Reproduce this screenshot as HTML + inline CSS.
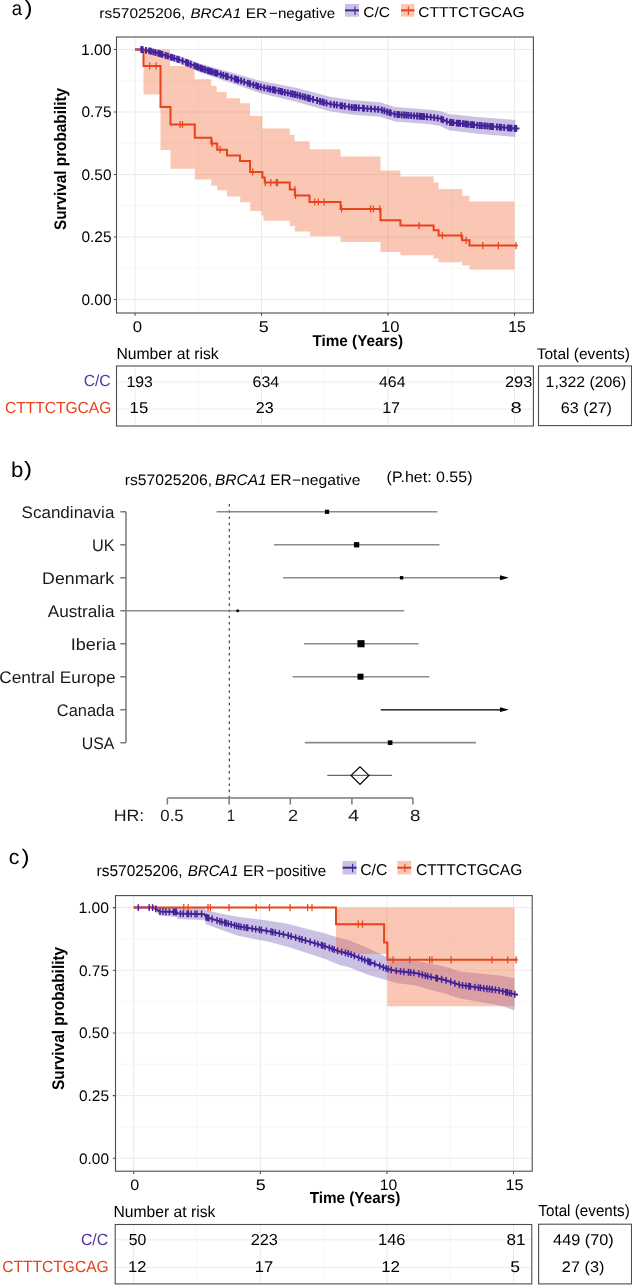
<!DOCTYPE html><html><head><meta charset="utf-8"><style>html,body{margin:0;padding:0;background:#fff;}svg{display:block;will-change:transform;}text{text-rendering:geometricPrecision;font-family:"Liberation Sans", sans-serif;}</style></head><body>
<svg width="632" height="1285" viewBox="0 0 632 1285">
<rect width="632" height="1285" fill="#fff"/>
<path d="M198.25,37.0 V313.0 M324.75,37.0 V313.0 M451.25,37.0 V313.0 M116.5,268.25 H533.4 M116.5,205.75 H533.4 M116.5,143.25 H533.4 M116.5,80.75 H533.4 " stroke="#f2f2f2" stroke-width="0.6" fill="none"/>
<path d="M135.00,37.0 V313.0 M261.50,37.0 V313.0 M388.00,37.0 V313.0 M514.50,37.0 V313.0 M116.5,299.50 H533.4 M116.5,237.00 H533.4 M116.5,174.50 H533.4 M116.5,112.00 H533.4 M116.5,49.50 H533.4 " stroke="#ebebeb" stroke-width="1" fill="none"/>
<path d="M141.30,47.50 L150.00,48.50 L160.00,50.70 L180.00,56.20 L200.00,63.60 L220.00,69.30 L240.00,75.10 L260.00,80.70 L295.00,87.50 L330.00,96.80 L353.20,100.20 L380.00,102.20 L395.00,107.00 L430.00,109.80 L440.00,110.90 L449.00,114.10 L477.50,116.90 L515.40,119.90 L515.40,137.10 L477.50,133.70 L449.00,130.30 L440.00,126.10 L430.00,124.20 L395.00,121.60 L380.00,116.80 L353.20,114.80 L330.00,111.20 L295.00,101.50 L260.00,93.10 L240.00,86.10 L220.00,79.30 L200.00,72.20 L180.00,63.80 L160.00,56.70 L150.00,53.50 L141.30,51.50 Z" fill="rgba(67,34,154,0.28)"/>
<path d="M143.50,49.50 L170.00,49.50 L170.00,66.00 L194.60,66.00 L194.60,79.20 L211.20,79.20 L211.20,85.90 L216.70,85.90 L216.70,91.90 L226.70,91.90 L226.70,98.20 L240.00,98.20 L240.00,103.30 L250.00,103.30 L250.00,116.00 L262.40,116.00 L262.40,128.60 L289.80,128.60 L289.80,135.00 L294.60,135.00 L294.60,141.30 L309.70,141.30 L309.70,149.20 L340.60,149.20 L340.60,156.50 L380.50,156.50 L380.50,170.50 L400.40,170.50 L400.40,176.50 L433.60,176.50 L433.60,182.50 L438.60,182.50 L438.60,189.10 L462.20,189.10 L462.20,195.70 L469.50,195.70 L469.50,201.40 L514.50,201.40 L514.50,269.50 L469.50,269.50 L469.50,265.50 L462.20,265.50 L462.20,262.20 L438.60,262.20 L438.60,258.50 L433.60,258.50 L433.60,255.20 L400.40,255.20 L400.40,251.90 L380.50,251.90 L380.50,241.90 L340.60,241.90 L340.60,236.30 L309.90,236.30 L309.90,231.40 L294.90,231.40 L294.90,225.90 L289.80,225.90 L289.80,220.80 L263.50,220.80 L263.50,215.60 L261.60,215.60 L261.60,210.90 L250.30,210.90 L250.30,202.20 L240.30,202.20 L240.30,196.60 L227.00,196.60 L227.00,190.30 L217.20,190.30 L217.20,185.80 L211.30,185.80 L211.30,179.50 L194.80,179.50 L194.80,168.70 L170.50,168.70 L170.50,150.10 L160.50,150.10 L160.50,94.60 L143.50,94.60 Z" fill="rgba(240,100,50,0.36)"/>
<path d="M135,49.5 L141.3,49.5 L150,51 L160,53.7 L180,60 L200,67.9 L220,74.3 L240,80.6 L260,86.9 L295,94.5 L330,104 L353.2,107.5 L380,109.5 L395,114.3 L430,117 L440,118.5 L449,122.2 L477.5,125.3 L515.4,128.5 L519.4,128.5" stroke="#43229a" stroke-width="2" fill="none"/>
<path d="M135.00,49.50 H143.50 V66.00 H160.50 V107.00 H170.50 V124.50 H194.80 V137.70 H211.30 V143.40 H217.20 V149.70 H227.00 V155.40 H240.00 V161.10 H250.10 V171.90 H262.40 V177.60 H264.70 V182.60 H289.80 V189.50 H294.90 V195.50 H309.50 V202.00 H340.60 V209.00 H380.50 V220.30 H400.40 V225.60 H433.60 V230.30 H438.60 V235.60 H462.20 V240.30 H469.50 V245.60 H517.70" stroke="#e8431d" stroke-width="2" fill="none" stroke-linejoin="miter"/>
<path d="M141.30,46.10 V52.90 M142.65,46.33 V53.13 M146.05,46.92 V53.72 M149.21,47.46 V54.26 M150.90,47.84 V54.64 M153.29,48.49 V55.29 M155.54,49.10 V55.90 M158.38,49.86 V56.66 M160.00,50.30 V57.10 M161.23,50.69 V57.49 M162.27,51.02 V57.82 M165.64,52.08 V58.88 M167.85,52.77 V59.57 M171.00,53.77 V60.57 M171.97,54.07 V60.87 M174.21,54.78 V61.58 M177.25,55.73 V62.53 M178.87,56.24 V63.04 M182.55,57.61 V64.41 M186.10,59.01 V65.81 M187.15,59.43 V66.23 M188.19,59.83 V66.63 M190.71,60.83 V67.63 M194.37,62.28 V69.08 M196.43,63.09 V69.89 M198.01,63.71 V70.51 M200.19,64.56 V71.36 M201.23,64.89 V71.69 M202.83,65.41 V72.21 M205.05,66.12 V72.92 M207.44,66.88 V73.68 M209.07,67.40 V74.20 M210.69,67.92 V74.72 M212.29,68.43 V75.23 M214.57,69.16 V75.96 M216.36,69.74 V76.54 M217.39,70.06 V76.86 M220.76,71.14 V77.94 M223.32,71.95 V78.75 M226.13,72.83 V79.63 M227.63,73.30 V80.10 M231.44,74.50 V81.30 M234.88,75.59 V82.39 M236.19,76.00 V82.80 M238.11,76.60 V83.40 M241.14,77.56 V84.36 M244.15,78.51 V85.31 M247.81,79.66 V86.46 M249.99,80.35 V87.15 M253.34,81.40 V88.20 M256.23,82.31 V89.11 M258.06,82.89 V89.69 M260.71,83.65 V90.45 M264.21,84.42 V91.22 M267.61,85.15 V91.95 M270.03,85.68 V92.48 M272.68,86.25 V93.05 M273.74,86.48 V93.28 M275.40,86.84 V93.64 M278.66,87.55 V94.35 M280.81,88.02 V94.82 M282.27,88.34 V95.14 M284.81,88.89 V95.69 M287.79,89.54 V96.34 M290.70,90.17 V96.97 M292.74,90.61 V97.41 M294.96,91.09 V97.89 M297.38,91.75 V98.55 M300.00,92.46 V99.26 M302.67,93.18 V99.98 M304.93,93.80 V100.60 M307.50,94.49 V101.29 M308.63,94.80 V101.60 M309.81,95.12 V101.92 M313.04,96.00 V102.80 M317.15,97.11 V103.91 M320.04,97.90 V104.70 M322.31,98.51 V105.31 M323.88,98.94 V105.74 M326.49,99.65 V106.45 M330.59,100.69 V107.49 M334.04,101.21 V108.01 M336.76,101.62 V108.42 M340.48,102.18 V108.98 M342.25,102.45 V109.25 M344.89,102.85 V109.65 M348.90,103.45 V110.25 M351.75,103.88 V110.68 M354.22,104.18 V110.98 M356.10,104.32 V111.12 M358.85,104.52 V111.32 M362.87,104.82 V111.62 M363.93,104.90 V111.70 M367.42,105.16 V111.96 M371.02,105.43 V112.23 M374.82,105.71 V112.51 M378.17,105.96 V112.76 M381.74,106.66 V113.46 M384.39,107.51 V114.31 M387.19,108.40 V115.20 M389.56,109.16 V115.96 M390.77,109.55 V116.35 M394.52,110.75 V117.55 M397.34,111.08 V117.88 M399.01,111.21 V118.01 M401.62,111.41 V118.21 M404.17,111.61 V118.41 M406.33,111.77 V118.57 M408.45,111.94 V118.74 M411.17,112.15 V118.95 M414.15,112.38 V119.18 M417.10,112.61 V119.41 M419.57,112.80 V119.60 M420.70,112.88 V119.68 M422.46,113.02 V119.82 M424.05,113.14 V119.94 M426.91,113.36 V120.16 M430.64,113.70 V120.50 M434.17,114.23 V121.03 M437.70,114.75 V121.55 M441.28,115.63 V122.43 M443.12,116.38 V123.18 M446.79,117.89 V124.69 M449.93,118.90 V125.70 M451.23,119.04 V125.84 M452.32,119.16 V125.96 M453.40,119.28 V126.08 M456.80,119.65 V126.45 M458.62,119.85 V126.65 M460.00,120.00 V126.80 M462.99,120.32 V127.12 M465.11,120.55 V127.35 M466.36,120.69 V127.49 M467.90,120.86 V127.66 M470.59,121.15 V127.95 M472.15,121.32 V128.12 M474.04,121.52 V128.32 M477.30,121.88 V128.68 M479.76,122.09 V128.89 M481.81,122.26 V129.06 M484.32,122.48 V129.28 M485.44,122.57 V129.37 M487.68,122.76 V129.56 M490.04,122.96 V129.76 M491.66,123.10 V129.90 M493.04,123.21 V130.01 M496.89,123.54 V130.34 M499.52,123.76 V130.56 M501.21,123.90 V130.70 M504.14,124.15 V130.95 M507.73,124.45 V131.25 M508.84,124.55 V131.35 M509.93,124.64 V131.44 M511.43,124.76 V131.56 M514.71,125.04 V131.84 M516.25,125.10 V131.90 " stroke="#43229a" stroke-width="1.9" fill="none"/>
<path d="M149.70,62.40 V69.60 M156.00,62.40 V69.60 M180.10,120.90 V128.10 M182.50,120.90 V128.10 M212.20,139.80 V147.00 M220.10,146.10 V153.30 M252.70,168.30 V175.50 M265.30,179.00 V186.20 M270.80,179.00 V186.20 M276.20,179.00 V186.20 M277.50,179.00 V186.20 M294.90,185.90 V193.10 M295.50,191.90 V199.10 M314.70,198.40 V205.60 M318.30,198.40 V205.60 M324.10,198.40 V205.60 M341.60,205.40 V212.60 M370.50,205.40 V212.60 M373.20,205.40 V212.60 M379.80,205.40 V212.60 M419.00,222.00 V229.20 M442.30,232.00 V239.20 M461.20,232.00 V239.20 M466.20,236.70 V243.90 M482.80,242.00 V249.20 M498.40,242.00 V249.20 M516.00,242.00 V249.20 " stroke="#e8431d" stroke-width="1.2" fill="none"/>
<rect x="116.5" y="37.0" width="416.9" height="276.0" fill="none" stroke="#4d4d4d" stroke-width="1.1"/>
<path d="M113.80,299.50 H116.5 M113.80,237.00 H116.5 M113.80,174.50 H116.5 M113.80,112.00 H116.5 M113.80,49.50 H116.5 M135.00,313.0 V315.70 M261.50,313.0 V315.70 M388.00,313.0 V315.70 M514.50,313.0 V315.70 " stroke="#4d4d4d" stroke-width="1.1" fill="none"/>
<text x="11.81" y="15.40" font-size="20.07" font-weight="normal" font-style="normal" fill="#000" textLength="10.29" lengthAdjust="spacingAndGlyphs" >a</text>
<text x="24.46" y="15.24" font-size="21.04" font-weight="normal" font-style="normal" fill="#000" textLength="8.04" lengthAdjust="spacingAndGlyphs" >)</text>
<text x="99.27" y="18.20" font-size="14.10" font-weight="normal" font-style="normal" fill="#000" textLength="86.12" lengthAdjust="spacingAndGlyphs" >rs57025206,</text>
<text x="190.43" y="18.20" font-size="13.81" font-weight="normal" font-style="italic" fill="#000" textLength="50.75" lengthAdjust="spacingAndGlyphs" >BRCA1</text>
<text x="245.73" y="18.20" font-size="13.81" font-weight="normal" font-style="normal" fill="#000" textLength="21.49" lengthAdjust="spacingAndGlyphs" >ER</text>
<text x="269.05" y="18.20" font-size="13.99" font-weight="normal" font-style="normal" fill="#000" textLength="66.12" lengthAdjust="spacingAndGlyphs" >−negative</text>
<rect x="345" y="4" width="14.00" height="12.70" fill="rgba(67,34,154,0.28)"/>
<path d="M345,10.35 H359" stroke="#43229a" stroke-width="2"/>
<path d="M355,6.45 V14.95" stroke="#43229a" stroke-width="1.1"/>
<text x="363.21" y="17.10" font-size="14.24" font-weight="normal" font-style="normal" fill="#000" textLength="26.78" lengthAdjust="spacingAndGlyphs" >C/C</text>
<rect x="401" y="4" width="13.40" height="12.70" fill="rgba(240,100,50,0.36)"/>
<path d="M401,10.35 H414.4" stroke="#e8431d" stroke-width="2"/>
<path d="M408.4,6.45 V14.95" stroke="#e8431d" stroke-width="1.1"/>
<text x="418.21" y="17.10" font-size="14.24" font-weight="normal" font-style="normal" fill="#000" textLength="106.35" lengthAdjust="spacingAndGlyphs" >CTTTCTGCAG</text>
<text x="80.90" y="54.90" font-size="15.33" font-weight="normal" font-style="normal" fill="#000" textLength="30.61" lengthAdjust="spacingAndGlyphs" >1.00</text>
<text x="81.50" y="117.40" font-size="15.33" font-weight="normal" font-style="normal" fill="#000" textLength="30.05" lengthAdjust="spacingAndGlyphs" >0.75</text>
<text x="81.50" y="179.90" font-size="15.33" font-weight="normal" font-style="normal" fill="#000" textLength="30.00" lengthAdjust="spacingAndGlyphs" >0.50</text>
<text x="81.50" y="242.40" font-size="15.33" font-weight="normal" font-style="normal" fill="#000" textLength="30.05" lengthAdjust="spacingAndGlyphs" >0.25</text>
<text x="81.50" y="304.90" font-size="15.33" font-weight="normal" font-style="normal" fill="#000" textLength="30.00" lengthAdjust="spacingAndGlyphs" >0.00</text>
<text x="132.85" y="332.10" font-size="15.47" font-weight="normal" font-style="normal" fill="#000" textLength="9.31" lengthAdjust="spacingAndGlyphs" >0</text>
<text x="258.68" y="332.10" font-size="15.47" font-weight="normal" font-style="normal" fill="#000" textLength="9.97" lengthAdjust="spacingAndGlyphs" >5</text>
<text x="381.14" y="332.10" font-size="15.47" font-weight="normal" font-style="normal" fill="#000" textLength="18.41" lengthAdjust="spacingAndGlyphs" >10</text>
<text x="508.19" y="332.10" font-size="15.47" font-weight="normal" font-style="normal" fill="#000" textLength="17.68" lengthAdjust="spacingAndGlyphs" >15</text>
<text x="312.43" y="345.80" font-size="15.70" font-weight="bold" font-style="normal" fill="#000" textLength="90.62" lengthAdjust="spacingAndGlyphs" >Time (Years)</text>
<text transform="translate(65.70,230.04) rotate(-90)" x="0" y="0" font-size="16.72" font-weight="bold" textLength="142.12" lengthAdjust="spacingAndGlyphs">Survival probability</text>
<path d="M198.25,366.0 V426.0 M324.75,366.0 V426.0 M451.25,366.0 V426.0 " stroke="#f2f2f2" stroke-width="0.6" fill="none"/>
<path d="M135.00,366.0 V426.0 M261.50,366.0 V426.0 M388.00,366.0 V426.0 M514.50,366.0 V426.0 M116.5,382 H533.4 M116.5,409 H533.4 " stroke="#ebebeb" stroke-width="1" fill="none"/>
<rect x="116.5" y="366.0" width="416.90" height="60.00" fill="none" stroke="#4d4d4d" stroke-width="1.1"/>
<rect x="538.5" y="366.0" width="93.00" height="59.60" fill="none" stroke="#4d4d4d" stroke-width="1.1"/>
<text x="116.41" y="359.00" font-size="15.99" font-weight="normal" font-style="normal" fill="#000" textLength="102.27" lengthAdjust="spacingAndGlyphs" >Number at risk</text>
<text x="536.66" y="359.20" font-size="15.41" font-weight="normal" font-style="normal" fill="#000" textLength="93.29" lengthAdjust="spacingAndGlyphs" >Total (events)</text>
<text x="83.70" y="385.50" font-size="15.99" font-weight="normal" font-style="normal" fill="#5236a3" textLength="26.99" lengthAdjust="spacingAndGlyphs" >C/C</text>
<text x="4.91" y="412.50" font-size="15.99" font-weight="normal" font-style="normal" fill="#e8431d" textLength="106.35" lengthAdjust="spacingAndGlyphs" >CTTTCTGCAG</text>
<text x="126.49" y="386.90" font-size="15.33" font-weight="normal" font-style="normal" fill="#000" textLength="26.40" lengthAdjust="spacingAndGlyphs" >193</text>
<text x="252.49" y="386.90" font-size="15.33" font-weight="normal" font-style="normal" fill="#000" textLength="26.68" lengthAdjust="spacingAndGlyphs" >634</text>
<text x="379.04" y="386.90" font-size="15.33" font-weight="normal" font-style="normal" fill="#000" textLength="26.43" lengthAdjust="spacingAndGlyphs" >464</text>
<text x="504.97" y="386.90" font-size="15.33" font-weight="normal" font-style="normal" fill="#000" textLength="27.45" lengthAdjust="spacingAndGlyphs" >293</text>
<text x="129.63" y="413.40" font-size="15.62" font-weight="normal" font-style="normal" fill="#000" textLength="18.57" lengthAdjust="spacingAndGlyphs" >15</text>
<text x="255.79" y="413.40" font-size="15.62" font-weight="normal" font-style="normal" fill="#000" textLength="17.92" lengthAdjust="spacingAndGlyphs" >23</text>
<text x="382.17" y="413.40" font-size="15.62" font-weight="normal" font-style="normal" fill="#000" textLength="17.94" lengthAdjust="spacingAndGlyphs" >17</text>
<text x="510.62" y="413.40" font-size="15.62" font-weight="normal" font-style="normal" fill="#000" textLength="11.26" lengthAdjust="spacingAndGlyphs" >8</text>
<text x="545.60" y="386.90" font-size="15.19" font-weight="normal" font-style="normal" fill="#000" textLength="80.78" lengthAdjust="spacingAndGlyphs" >1,322 (206)</text>
<text x="560.88" y="413.20" font-size="15.33" font-weight="normal" font-style="normal" fill="#000" textLength="51.12" lengthAdjust="spacingAndGlyphs" >63 (27)</text>
<text x="10.97" y="476.60" font-size="21.40" font-weight="normal" font-style="normal" fill="#000" textLength="12.37" lengthAdjust="spacingAndGlyphs" >b</text>
<text x="24.06" y="476.29" font-size="20.82" font-weight="normal" font-style="normal" fill="#000" textLength="8.04" lengthAdjust="spacingAndGlyphs" >)</text>
<text x="124.66" y="485.00" font-size="15.26" font-weight="normal" font-style="normal" fill="#000" textLength="87.35" lengthAdjust="spacingAndGlyphs" >rs57025206,</text>
<text x="214.92" y="485.00" font-size="15.26" font-weight="normal" font-style="italic" fill="#000" textLength="51.69" lengthAdjust="spacingAndGlyphs" >BRCA1</text>
<text x="270.24" y="485.00" font-size="15.26" font-weight="normal" font-style="normal" fill="#000" textLength="21.38" lengthAdjust="spacingAndGlyphs" >ER</text>
<text x="291.93" y="484.80" font-size="14.81" font-weight="normal" font-style="normal" fill="#000" textLength="68.47" lengthAdjust="spacingAndGlyphs" >−negative</text>
<text x="386.63" y="482.40" font-size="15.12" font-weight="normal" font-style="normal" fill="#000" textLength="85.83" lengthAdjust="spacingAndGlyphs" >(P.het: 0.55)</text>
<text x="21.53" y="518.00" font-size="16.72" font-weight="normal" font-style="normal" fill="#1a1a1a" textLength="92.87" lengthAdjust="spacingAndGlyphs" >Scandinavia</text>
<text x="91.94" y="550.98" font-size="16.72" font-weight="normal" font-style="normal" fill="#1a1a1a" textLength="22.64" lengthAdjust="spacingAndGlyphs" >UK</text>
<text x="42.14" y="583.96" font-size="16.72" font-weight="normal" font-style="normal" fill="#1a1a1a" textLength="72.03" lengthAdjust="spacingAndGlyphs" >Denmark</text>
<text x="47.67" y="616.94" font-size="16.72" font-weight="normal" font-style="normal" fill="#1a1a1a" textLength="66.93" lengthAdjust="spacingAndGlyphs" >Australia</text>
<text x="70.73" y="649.92" font-size="16.72" font-weight="normal" font-style="normal" fill="#1a1a1a" textLength="45.27" lengthAdjust="spacingAndGlyphs" >Iberia</text>
<text x="-0.88" y="682.90" font-size="16.72" font-weight="normal" font-style="normal" fill="#1a1a1a" textLength="116.45" lengthAdjust="spacingAndGlyphs" >Central Europe</text>
<text x="56.87" y="715.88" font-size="16.72" font-weight="normal" font-style="normal" fill="#1a1a1a" textLength="57.53" lengthAdjust="spacingAndGlyphs" >Canada</text>
<text x="81.77" y="748.86" font-size="16.72" font-weight="normal" font-style="normal" fill="#1a1a1a" textLength="32.66" lengthAdjust="spacingAndGlyphs" >USA</text>
<path d="M126,511.80 V742.66 M120.3,511.80 H126 M120.3,544.78 H126 M120.3,577.76 H126 M120.3,610.74 H126 M120.3,643.72 H126 M120.3,676.70 H126 M120.3,709.68 H126 M120.3,742.66 H126 " stroke="#7a7a7a" stroke-width="1.5" fill="none"/>
<path d="M229.3,504 V798" stroke="#333" stroke-width="1.1" stroke-dasharray="2.6 3.609" fill="none"/>
<path d="M216.6,511.80 H437.4" stroke="#8a8a8a" stroke-width="1.6" fill="none"/>
<rect x="324.90" y="509.70" width="4.2" height="4.2" fill="#000"/>
<path d="M274.0,544.78 H439.5" stroke="#8a8a8a" stroke-width="1.6" fill="none"/>
<rect x="353.95" y="542.13" width="5.3" height="5.3" fill="#000"/>
<path d="M283.1,577.76 H500" stroke="#8a8a8a" stroke-width="1.6" fill="none"/>
<path d="M500,575.36 L508.8,577.76 L500,580.16 Z" fill="#000"/>
<rect x="399.90" y="576.06" width="3.4" height="3.4" fill="#000"/>
<path d="M126,610.74 H404.3" stroke="#8a8a8a" stroke-width="1.6" fill="none"/>
<circle cx="237.7" cy="610.74" r="1.5" fill="#000"/>
<path d="M304.0,643.72 H418.5" stroke="#8a8a8a" stroke-width="1.6" fill="none"/>
<rect x="357.45" y="640.17" width="7.1" height="7.1" fill="#000"/>
<path d="M292.7,676.70 H429.4" stroke="#8a8a8a" stroke-width="1.6" fill="none"/>
<rect x="357.50" y="673.70" width="6.0" height="6.0" fill="#000"/>
<path d="M380.8,709.68 H500" stroke="#8a8a8a" stroke-width="1.6" fill="none"/>
<path d="M500,707.28 L508.8,709.68 L500,712.08 Z" fill="#000"/>
<path d="M380.8,709.68 H500" stroke="#3a3a3a" stroke-width="1.5" fill="none"/>
<path d="M304.8,742.66 H476.0" stroke="#8a8a8a" stroke-width="1.6" fill="none"/>
<rect x="387.80" y="740.36" width="4.6" height="4.6" fill="#000"/>
<path d="M327.3,775.4 H391.9" stroke="#666" stroke-width="1.3" fill="none"/>
<path d="M351.1,775.4 L360,766.8 L368.9,775.4 L360,784.4 Z" fill="none" stroke="#000" stroke-width="1.2"/>
<path d="M167.4,798 H412.9 M167.4,798 V804.5 M229.1,798 V804.5 M290.3,798 V804.5 M351.9,798 V804.5 M412.9,798 V804.5 " stroke="#7a7a7a" stroke-width="1.5" fill="none"/>
<text x="113.74" y="820.60" font-size="16.42" font-weight="normal" font-style="normal" fill="#1a1a1a" textLength="30.58" lengthAdjust="spacingAndGlyphs" >HR:</text>
<text x="160.34" y="820.60" font-size="16.19" font-weight="normal" font-style="normal" fill="#1a1a1a" textLength="23.36" lengthAdjust="spacingAndGlyphs" >0.5</text>
<text x="226.85" y="820.60" font-size="16.19" font-weight="normal" font-style="normal" fill="#1a1a1a" textLength="8.38" lengthAdjust="spacingAndGlyphs" >1</text>
<text x="287.98" y="820.60" font-size="16.19" font-weight="normal" font-style="normal" fill="#1a1a1a" textLength="10.13" lengthAdjust="spacingAndGlyphs" >2</text>
<text x="347.94" y="820.60" font-size="16.19" font-weight="normal" font-style="normal" fill="#1a1a1a" textLength="11.15" lengthAdjust="spacingAndGlyphs" >4</text>
<text x="410.09" y="820.60" font-size="16.19" font-weight="normal" font-style="normal" fill="#1a1a1a" textLength="10.43" lengthAdjust="spacingAndGlyphs" >8</text>
<path d="M197.00,895.6 V1171.2 M323.60,895.6 V1171.2 M450.20,895.6 V1171.2 M115.5,1126.96 H532.2 M115.5,1064.29 H532.2 M115.5,1001.61 H532.2 M115.5,938.94 H532.2 " stroke="#f2f2f2" stroke-width="0.6" fill="none"/>
<path d="M133.70,895.6 V1171.2 M260.30,895.6 V1171.2 M386.90,895.6 V1171.2 M513.50,895.6 V1171.2 M115.5,1158.30 H532.2 M115.5,1095.62 H532.2 M115.5,1032.95 H532.2 M115.5,970.27 H532.2 M115.5,907.60 H532.2 " stroke="#ebebeb" stroke-width="1" fill="none"/>
<path d="M153.70,905.60 L157.70,906.50 L159.30,907.60 L176.70,907.00 L178.00,908.00 L204.40,908.20 L206.00,910.20 L213.90,912.00 L220.00,913.50 L239.00,917.00 L267.50,920.50 L286.50,923.50 L305.40,928.50 L324.40,933.20 L339.60,938.00 L349.00,940.20 L368.00,947.90 L387.00,957.30 L396.50,959.00 L415.40,960.50 L430.00,963.70 L445.00,966.50 L460.00,971.50 L500.00,975.60 L514.50,978.20 L514.50,1010.20 L500.00,1005.60 L460.00,998.50 L445.00,993.50 L430.00,989.70 L415.40,985.50 L396.50,983.00 L387.00,980.30 L368.00,974.70 L349.00,967.20 L339.60,965.00 L324.40,958.80 L305.40,952.50 L286.50,946.50 L267.50,941.50 L239.00,936.00 L220.00,929.50 L213.90,927.00 L206.00,924.20 L204.40,920.20 L178.00,919.00 L176.70,917.00 L159.30,915.60 L157.70,913.50 L153.70,909.60 Z" fill="rgba(67,34,154,0.28)"/>
<path d="M336.00,907.60 L514.50,907.60 L514.50,1006.30 L387.40,1006.30 L387.40,954.10 L336.00,954.10 Z" fill="rgba(240,100,50,0.36)"/>
<path d="M133.7,907.6 L153.7,907.6 L157.7,910.0 L159.3,911.6 L176.7,912.0 L178,913.5 L204.4,914.2 L206,917.2 L213.9,919.5 L220,921.5 L239,926.5 L267.5,931 L286.5,935 L305.4,940.5 L324.4,946 L339.6,951.5 L349,953.7 L368,961.3 L387,968.8 L396.5,971 L415.4,973 L430,976.7 L445,980 L460,985 L500,990.6 L514.5,994.2 L518,994.7" stroke="#43229a" stroke-width="2" fill="none"/>
<path d="M133.70,907.60 H336.00 V924.20 H384.10 V942.50 H387.40 V959.80 H517.70" stroke="#e8431d" stroke-width="2" fill="none" stroke-linejoin="miter"/>
<path d="M138.30,904.20 V911.00 M149.20,904.20 V911.00 M152.60,904.20 V911.00 M155.76,905.44 V912.24 M160.00,908.22 V915.02 M162.98,908.28 V915.08 M165.80,908.35 V915.15 M169.35,908.43 V915.23 M173.39,908.52 V915.32 M174.92,908.56 V915.36 M176.23,908.59 V915.39 M180.44,910.16 V916.96 M183.19,910.24 V917.04 M187.14,910.34 V917.14 M188.35,910.37 V917.17 M191.15,910.45 V917.25 M194.95,910.55 V917.35 M196.97,910.60 V917.40 M201.57,910.73 V917.53 M206.00,913.80 V920.60 M207.40,914.21 V921.01 M208.78,914.61 V921.41 M212.13,915.59 V922.39 M217.02,917.12 V923.92 M219.76,918.02 V924.82 M221.88,918.59 V925.39 M224.78,919.36 V926.16 M226.17,919.72 V926.52 M228.30,920.28 V927.08 M231.26,921.06 V927.86 M234.45,921.90 V928.70 M236.62,922.47 V929.27 M238.79,923.04 V929.84 M240.91,923.40 V930.20 M243.95,923.88 V930.68 M246.34,924.26 V931.06 M247.71,924.47 V931.27 M252.20,925.18 V931.98 M255.62,925.72 V932.52 M259.37,926.32 V933.12 M261.36,926.63 V933.43 M266.45,927.43 V934.23 M271.03,928.34 V935.14 M272.78,928.71 V935.51 M275.34,929.25 V936.05 M279.39,930.10 V936.90 M283.40,930.95 V937.75 M288.27,932.12 V938.92 M291.17,932.96 V939.76 M295.64,934.26 V941.06 M299.50,935.38 V942.18 M301.94,936.09 V942.89 M305.48,937.12 V943.92 M310.15,938.47 V945.27 M314.67,939.78 V946.58 M317.90,940.72 V947.52 M321.44,941.74 V948.54 M322.85,942.15 V948.95 M325.06,942.84 V949.64 M329.40,944.41 V951.21 M332.27,945.45 V952.25 M334.22,946.15 V952.95 M337.61,947.38 V954.18 M341.59,948.56 V955.36 M345.46,949.47 V956.27 M348.17,950.11 V956.91 M351.14,951.16 V957.96 M354.37,952.45 V959.25 M358.64,954.16 V960.96 M361.92,955.47 V962.27 M364.71,956.59 V963.39 M367.87,957.85 V964.65 M369.27,958.40 V965.20 M370.71,958.97 V965.77 M374.69,960.54 V967.34 M379.75,962.54 V969.34 M383.31,963.94 V970.74 M386.10,965.04 V971.84 M388.03,965.64 V972.44 M391.24,966.38 V973.18 M396.29,967.55 V974.35 M400.53,968.03 V974.83 M403.88,968.38 V975.18 M408.47,968.87 V975.67 M410.64,969.10 V975.90 M413.89,969.44 V976.24 M418.83,970.47 V977.27 M422.33,971.36 V978.16 M425.37,972.13 V978.93 M427.69,972.71 V979.51 M431.07,973.54 V980.34 M436.02,974.63 V981.43 M437.33,974.91 V981.71 M441.62,975.86 V982.66 M446.05,976.95 V983.75 M450.73,978.51 V985.31 M454.85,979.88 V986.68 M459.24,981.35 V988.15 M462.51,981.95 V988.75 M465.95,982.43 V989.23 M468.86,982.84 V989.64 M470.36,983.05 V989.85 M474.98,983.70 V990.50 M478.45,984.18 V990.98 M480.50,984.47 V991.27 M483.71,984.92 V991.72 M486.86,985.36 V992.16 M489.51,985.73 V992.53 M492.12,986.10 V992.90 M495.46,986.56 V993.36 M499.14,987.08 V993.88 M502.77,987.89 V994.69 M505.81,988.64 V995.44 M507.20,988.99 V995.79 M509.36,989.52 V996.32 M511.32,990.01 V996.81 M514.84,990.85 V997.65 " stroke="#43229a" stroke-width="1.5" fill="none"/>
<path d="M183.80,904.00 V911.20 M188.10,904.00 V911.20 M208.00,904.00 V911.20 M210.40,904.00 V911.20 M229.00,904.00 V911.20 M256.20,904.00 V911.20 M269.50,904.00 V911.20 M290.10,904.00 V911.20 M307.70,904.00 V911.20 M312.00,904.00 V911.20 M358.20,920.60 V927.80 M362.50,920.60 V927.80 M393.10,956.20 V963.40 M409.70,956.20 V963.40 M429.60,956.20 V963.40 M432.00,956.20 V963.40 M451.20,956.20 V963.40 M492.10,956.20 V963.40 M507.70,956.20 V963.40 M516.00,956.20 V963.40 " stroke="#e8431d" stroke-width="1.2" fill="none"/>
<rect x="115.5" y="895.6" width="416.70000000000005" height="275.6" fill="none" stroke="#4d4d4d" stroke-width="1.1"/>
<path d="M112.80,1158.30 H115.5 M112.80,1095.62 H115.5 M112.80,1032.95 H115.5 M112.80,970.27 H115.5 M112.80,907.60 H115.5 M133.70,1171.2 V1173.90 M260.30,1171.2 V1173.90 M386.90,1171.2 V1173.90 M513.50,1171.2 V1173.90 " stroke="#4d4d4d" stroke-width="1.1" fill="none"/>
<text x="8.89" y="864.40" font-size="20.82" font-weight="normal" font-style="normal" fill="#000" textLength="10.67" lengthAdjust="spacingAndGlyphs" >c</text>
<text x="21.46" y="864.24" font-size="21.04" font-weight="normal" font-style="normal" fill="#000" textLength="8.04" lengthAdjust="spacingAndGlyphs" >)</text>
<text x="96.57" y="875.80" font-size="15.70" font-weight="normal" font-style="normal" fill="#000" textLength="86.12" lengthAdjust="spacingAndGlyphs" >rs57025206,</text>
<text x="187.73" y="875.80" font-size="15.41" font-weight="normal" font-style="italic" fill="#000" textLength="50.75" lengthAdjust="spacingAndGlyphs" >BRCA1</text>
<text x="243.03" y="875.80" font-size="15.41" font-weight="normal" font-style="normal" fill="#000" textLength="21.49" lengthAdjust="spacingAndGlyphs" >ER</text>
<text x="266.36" y="875.80" font-size="15.50" font-weight="normal" font-style="normal" fill="#000" textLength="59.81" lengthAdjust="spacingAndGlyphs" >−positive</text>
<rect x="342.6" y="860.9" width="13.90" height="13.60" fill="rgba(67,34,154,0.28)"/>
<path d="M342.6,867.70 H356.5" stroke="#43229a" stroke-width="2"/>
<path d="M352.6,863.80 V872.30" stroke="#43229a" stroke-width="1.1"/>
<text x="360.20" y="874.60" font-size="15.70" font-weight="normal" font-style="normal" fill="#000" textLength="27.20" lengthAdjust="spacingAndGlyphs" >C/C</text>
<rect x="397.3" y="860.9" width="13.90" height="13.60" fill="rgba(240,100,50,0.36)"/>
<path d="M397.3,867.70 H411.2" stroke="#e8431d" stroke-width="2"/>
<path d="M404.9,863.80 V872.30" stroke="#e8431d" stroke-width="1.1"/>
<text x="416.01" y="874.60" font-size="15.70" font-weight="normal" font-style="normal" fill="#000" textLength="106.35" lengthAdjust="spacingAndGlyphs" >CTTTCTGCAG</text>
<text x="78.40" y="913.00" font-size="15.33" font-weight="normal" font-style="normal" fill="#000" textLength="30.61" lengthAdjust="spacingAndGlyphs" >1.00</text>
<text x="79.00" y="975.80" font-size="15.33" font-weight="normal" font-style="normal" fill="#000" textLength="30.05" lengthAdjust="spacingAndGlyphs" >0.75</text>
<text x="79.00" y="1038.30" font-size="15.33" font-weight="normal" font-style="normal" fill="#000" textLength="30.00" lengthAdjust="spacingAndGlyphs" >0.50</text>
<text x="79.00" y="1101.10" font-size="15.33" font-weight="normal" font-style="normal" fill="#000" textLength="30.05" lengthAdjust="spacingAndGlyphs" >0.25</text>
<text x="79.00" y="1163.70" font-size="15.33" font-weight="normal" font-style="normal" fill="#000" textLength="30.00" lengthAdjust="spacingAndGlyphs" >0.00</text>
<text x="130.17" y="1190.20" font-size="15.19" font-weight="normal" font-style="normal" fill="#000" textLength="8.96" lengthAdjust="spacingAndGlyphs" >0</text>
<text x="255.78" y="1190.20" font-size="15.19" font-weight="normal" font-style="normal" fill="#000" textLength="9.97" lengthAdjust="spacingAndGlyphs" >5</text>
<text x="379.81" y="1190.20" font-size="15.19" font-weight="normal" font-style="normal" fill="#000" textLength="17.40" lengthAdjust="spacingAndGlyphs" >10</text>
<text x="505.56" y="1190.20" font-size="15.19" font-weight="normal" font-style="normal" fill="#000" textLength="18.13" lengthAdjust="spacingAndGlyphs" >15</text>
<text x="309.63" y="1203.30" font-size="15.84" font-weight="bold" font-style="normal" fill="#000" textLength="90.62" lengthAdjust="spacingAndGlyphs" >Time (Years)</text>
<text transform="translate(63.90,1090.04) rotate(-90)" x="0" y="0" font-size="16.86" font-weight="bold" textLength="143.23" lengthAdjust="spacingAndGlyphs">Survival probability</text>
<path d="M197.00,1224.5 V1283.9 M323.60,1224.5 V1283.9 M450.20,1224.5 V1283.9 " stroke="#f2f2f2" stroke-width="0.6" fill="none"/>
<path d="M133.70,1224.5 V1283.9 M260.30,1224.5 V1283.9 M386.90,1224.5 V1283.9 M513.50,1224.5 V1283.9 M115.2,1239.8 H531.8 M115.2,1267.5 H531.8 " stroke="#ebebeb" stroke-width="1" fill="none"/>
<rect x="115.2" y="1224.5" width="416.60" height="59.40" fill="none" stroke="#4d4d4d" stroke-width="1.1"/>
<rect x="538.6" y="1224.2" width="92.90" height="59.70" fill="none" stroke="#4d4d4d" stroke-width="1.1"/>
<text x="113.51" y="1217.00" font-size="15.99" font-weight="normal" font-style="normal" fill="#000" textLength="101.86" lengthAdjust="spacingAndGlyphs" >Number at risk</text>
<text x="538.36" y="1215.60" font-size="16.13" font-weight="normal" font-style="normal" fill="#000" textLength="91.36" lengthAdjust="spacingAndGlyphs" >Total (events)</text>
<text x="80.90" y="1245.20" font-size="16.28" font-weight="normal" font-style="normal" fill="#5236a3" textLength="27.20" lengthAdjust="spacingAndGlyphs" >C/C</text>
<text x="2.21" y="1271.80" font-size="16.28" font-weight="normal" font-style="normal" fill="#e8431d" textLength="106.46" lengthAdjust="spacingAndGlyphs" >CTTTCTGCAG</text>
<text x="128.67" y="1245.30" font-size="15.90" font-weight="normal" font-style="normal" fill="#000" textLength="17.55" lengthAdjust="spacingAndGlyphs" >50</text>
<text x="250.68" y="1245.30" font-size="15.90" font-weight="normal" font-style="normal" fill="#000" textLength="27.24" lengthAdjust="spacingAndGlyphs" >223</text>
<text x="378.05" y="1245.30" font-size="15.90" font-weight="normal" font-style="normal" fill="#000" textLength="27.37" lengthAdjust="spacingAndGlyphs" >146</text>
<text x="506.55" y="1245.30" font-size="15.90" font-weight="normal" font-style="normal" fill="#000" textLength="19.08" lengthAdjust="spacingAndGlyphs" >81</text>
<text x="128.04" y="1272.00" font-size="15.62" font-weight="normal" font-style="normal" fill="#000" textLength="18.39" lengthAdjust="spacingAndGlyphs" >12</text>
<text x="254.74" y="1272.00" font-size="15.62" font-weight="normal" font-style="normal" fill="#000" textLength="18.39" lengthAdjust="spacingAndGlyphs" >17</text>
<text x="381.21" y="1272.00" font-size="15.62" font-weight="normal" font-style="normal" fill="#000" textLength="18.84" lengthAdjust="spacingAndGlyphs" >12</text>
<text x="510.30" y="1272.00" font-size="15.62" font-weight="normal" font-style="normal" fill="#000" textLength="9.74" lengthAdjust="spacingAndGlyphs" >5</text>
<text x="553.13" y="1245.00" font-size="15.47" font-weight="normal" font-style="normal" fill="#000" textLength="60.48" lengthAdjust="spacingAndGlyphs" >449 (70)</text>
<text x="561.88" y="1272.00" font-size="15.33" font-weight="normal" font-style="normal" fill="#000" textLength="42.53" lengthAdjust="spacingAndGlyphs" >27 (3)</text>
</svg></body></html>
